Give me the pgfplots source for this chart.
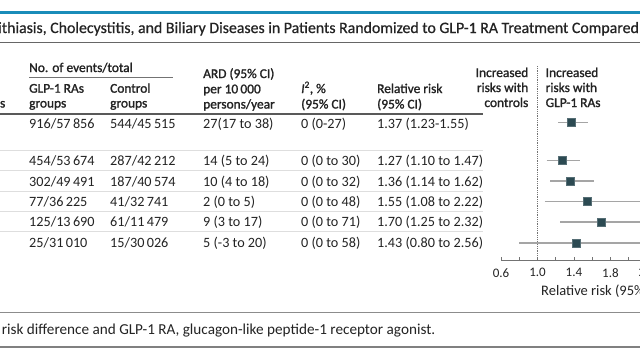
\documentclass[border=0pt]{standalone}
\usepackage{fontspec}
\setmainfont{Carlito}
\newfontfamily\semib[FakeBold=1.4]{Carlito}
\newfontfamily\titlef[FakeBold=0.6]{Carlito}
\usepackage{pgfplots}
\pgfplotsset{compat=1.18}
\definecolor{jblue}{RGB}{25,140,185}
\definecolor{mk}{RGB}{44,74,82}
\definecolor{txt}{RGB}{35,35,35}
\definecolor{ci}{RGB}{165,165,165}
\newcommand\fs[1]{\fontsize{#1}{#1}\selectfont}
\tikzset{
  d/.style={anchor=base west, inner sep=0pt, font=\fs{14.2}, text=txt},
  h/.style={anchor=base west, inner sep=0pt, font=\fs{13.4}\semib, text=txt},
  he/.style={anchor=base east, inner sep=0pt, font=\fs{13.4}\semib, text=txt},
}
\begin{document}
\begin{tikzpicture}[x=1pt,y=1pt]
\useasboundingbox (0,0) rectangle (640,-360);
\clip (0,0) rectangle (640,-360);
\fill[white] (0,0) rectangle (640,-360);
% title block
\draw[jblue, line width=2.2] (0,-12.5) -- (640,-12.5);
\node[anchor=base west, inner sep=0pt, font=\fs{15.85}\titlef, text=txt] at (1.7,-33) {\llap{Figure 3. Risk of Choleli}thiasis, Cholecystitis, and Biliary Diseases in Patients Randomized to GLP-1 RA Treatment Compared With Controls};
\draw[black!60, line width=1.4] (0,-42.3) -- (640,-42.3);
% header
\node[h] at (29,-72) {No. of events/total};
\draw[black!55, line width=0.9] (29,-77) -- (173,-77);
\node[h] at (29,-92.7) {GLP-1 RAs};
\node[h] at (29,-107.5) {groups};
\node[h] at (110,-92.7) {Control};
\node[h] at (110,-107.5) {groups};
\node[h] at (203,-78) {ARD (95\% CI)};
\node[h] at (203,-93.3) {per 10\,000};
\node[h] at (203,-108.5) {persons/year};
\node[h] at (301,-93) {{\itshape I}\textsuperscript{2}, \%};
\node[h] at (301,-108.5) {(95\% CI)};
\node[h] at (377,-93) {Relative risk};
\node[h] at (377,-108.5) {(95\% CI)};
\node[he] at (5.5,-107.5) {Outcomes};
\node[he] at (528.5,-77) {Increased};
\node[he] at (528.5,-92) {risks with};
\node[he] at (528.5,-107) {controls};
\node[h] at (545.5,-77) {Increased};
\node[h] at (545.5,-92) {risks with};
\node[h] at (545.5,-107) {GLP-1 RAs};
\draw[black!65, line width=1.2] (0,-114) -- (483,-114);
% separators
\foreach \yy in {150,170.7,191.5,211.7,231.8}
  \draw[black!13, line width=1] (0,-\yy) -- (483,-\yy);
% rows
\node[d] at (29,-128.3) {916/57\,856};
\node[d] at (110,-128.3) {544/45\,515};
\node[d] at (203,-128.3) {27(17 to 38)};
\node[d] at (301,-128.3) {0 (0-27)};
\node[d] at (377,-128.3) {1.37 (1.23-1.55)};
\node[d] at (29,-165.3) {454/53\,674};
\node[d] at (110,-165.3) {287/42\,212};
\node[d] at (203,-165.3) {14 (5 to 24)};
\node[d] at (301,-165.3) {0 (0 to 30)};
\node[d] at (377,-165.3) {1.27 (1.10 to 1.47)};
\node[d] at (29,-186) {302/49\,491};
\node[d] at (110,-186) {187/40\,574};
\node[d] at (203,-186) {10 (4 to 18)};
\node[d] at (301,-186) {0 (0 to 32)};
\node[d] at (377,-186) {1.36 (1.14 to 1.62)};
\node[d] at (29,-206.7) {77/36\,225};
\node[d] at (110,-206.7) {41/32\,741};
\node[d] at (203,-206.7) {2 (0 to 5)};
\node[d] at (301,-206.7) {0 (0 to 48)};
\node[d] at (377,-206.7) {1.55 (1.08 to 2.22)};
\node[d] at (29,-226.7) {125/13\,690};
\node[d] at (110,-226.7) {61/11\,479};
\node[d] at (203,-226.7) {9 (3 to 17)};
\node[d] at (301,-226.7) {0 (0 to 71)};
\node[d] at (377,-226.7) {1.70 (1.25 to 2.32)};
\node[d] at (29,-247.7) {25/31\,010};
\node[d] at (110,-247.7) {15/30\,026};
\node[d] at (203,-247.7) {5 (-3 to 20)};
\node[d] at (301,-247.7) {0 (0 to 58)};
\node[d] at (377,-247.7) {1.43 (0.80 to 2.56)};
% forest plot
\begin{axis}[
  at={(501pt,-260pt)}, anchor=south west,
  scale only axis, width=182.4pt, height=200pt,
  xmin=0.6, xmax=2.6, ymin=-260, ymax=-60,
  clip=false,
  axis y line=none, axis x line*=bottom,
  axis line style={-, black!55, line width=0.9pt},
  xtick={0.6,1.0,1.4,1.8,2.2,2.6},
  minor xtick={0.8,1.2,1.6,2.0,2.4},
  tick align=inside,
  major tick length=3.5pt, minor tick length=3.5pt,
  tick style={black!55, line width=0.8pt},
  /pgf/number format/fixed,
  /pgf/number format/fixed zerofill,
  /pgf/number format/precision=1,
  /pgf/number format/assume math mode=true,
  xticklabel style={font=\fs{13}, text=txt, yshift=-5pt},
]
\addplot[black!55, densely dotted, line width=0.8pt] coordinates {(1,-66) (1,-260)};
\addplot[ci, line width=1.3pt] coordinates {(1.23,-122.7) (1.55,-122.7)};
\addplot[ci, line width=1.3pt] coordinates {(1.10,-160.7) (1.47,-160.7)};
\addplot[ci, line width=1.3pt] coordinates {(1.14,-181) (1.62,-181)};
\addplot[ci, line width=1.3pt] coordinates {(1.08,-201.7) (2.22,-201.7)};
\addplot[ci, line width=1.3pt] coordinates {(1.25,-222) (2.32,-222)};
\addplot[ci, line width=1.3pt] coordinates {(0.80,-243) (2.56,-243)};
\addplot[only marks, mark=square*, mark size=4pt, mark options={fill=mk, draw=mk!80!white, line width=0.5pt}]
  coordinates {(1.37,-122.7) (1.27,-160.7) (1.36,-181) (1.55,-201.7) (1.70,-222) (1.43,-243)};
\end{axis}
\node[anchor=base west, inner sep=0pt, font=\fs{14.5}, text=txt] at (541,-295) {Relative risk (95\% CI)};
% footer
\draw[black!45, line width=1.3] (0,-312.7) -- (640,-312.7);
\node[anchor=base west, inner sep=0pt, font=\fs{15.2}, text=txt] at (1.7,-334.3) {risk difference and GLP-1 RA, glucagon-like peptide-1 receptor agonist.};
\draw[black!50, line width=2.2] (0,-347.3) -- (640,-347.3);
\end{tikzpicture}
\end{document}
